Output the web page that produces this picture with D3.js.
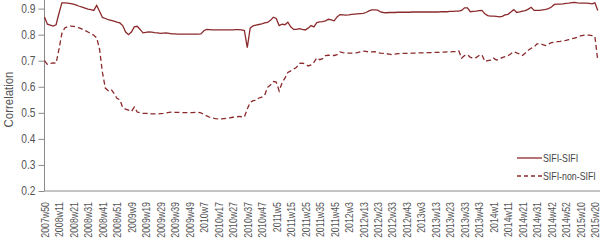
<!DOCTYPE html>
<html>
<head>
<meta charset="utf-8">
<script src="https://cdn.jsdelivr.net/npm/d3@7"></script>
<style>
  body { margin: 0; background: #fff; }
  svg { display: block; font-family: "Liberation Sans", Arial, sans-serif; }
  .axis path, .axis line { stroke: #8a8a8a; }
  .axis text { fill: #555; }
</style>
</head>
<body>
<svg id="chart" width="600" height="241"></svg>
<script>
// week labels shown on the x axis, one every 10 weeks
const tickLabels = ["2007w50", "2008w11", "2008w21", "2008w31", "2008w41", "2008w51", "2009w9", "2009w19",
  "2009w29", "2009w39", "2009w49", "2010w7", "2010w17", "2010w27", "2010w37", "2010w47", "2011w5",
  "2011w15", "2011w25", "2011w35", "2011w45", "2012w3", "2012w13", "2012w23", "2012w33", "2012w43",
  "2013w3", "2013w13", "2013w23", "2013w33", "2013w43", "2014w1", "2014w11", "2014w21", "2014w31",
  "2014w42", "2014w52", "2015w10", "2015w20"];

// correlations, one value every 2 weeks from 2007w50
const sifiSifi = [
  0.868, 0.840, 0.837, 0.833, 0.838, 0.882, 0.922, 0.922, 0.921, 0.919,
  0.917, 0.913, 0.909, 0.906, 0.902, 0.898, 0.896, 0.893, 0.912, 0.890,
  0.866, 0.862, 0.858, 0.855, 0.852, 0.848, 0.845, 0.835, 0.810, 0.800,
  0.810, 0.830, 0.832, 0.820, 0.807, 0.809, 0.811, 0.810, 0.808, 0.807,
  0.805, 0.806, 0.807, 0.805, 0.803, 0.803, 0.802, 0.802, 0.802, 0.802,
  0.802, 0.802, 0.802, 0.802, 0.803, 0.815, 0.820, 0.819, 0.818, 0.818,
  0.818, 0.818, 0.818, 0.818, 0.818, 0.818, 0.819, 0.819, 0.818, 0.816,
  0.750, 0.825, 0.834, 0.837, 0.839, 0.841, 0.845, 0.847, 0.855, 0.867,
  0.862, 0.835, 0.840, 0.838, 0.848, 0.830, 0.820, 0.820, 0.823, 0.820,
  0.818, 0.825, 0.835, 0.830, 0.846, 0.849, 0.850, 0.853, 0.859, 0.857,
  0.853, 0.868, 0.877, 0.876, 0.875, 0.876, 0.878, 0.879, 0.880, 0.881,
  0.882, 0.885, 0.891, 0.895, 0.895, 0.894, 0.887, 0.885, 0.884, 0.885,
  0.885, 0.885, 0.886, 0.886, 0.886, 0.886, 0.886, 0.887, 0.887, 0.887,
  0.887, 0.887, 0.887, 0.887, 0.887, 0.887, 0.887, 0.888, 0.888, 0.888,
  0.889, 0.889, 0.890, 0.890, 0.893, 0.903, 0.903, 0.888, 0.889, 0.890,
  0.892, 0.893, 0.880, 0.873, 0.871, 0.871, 0.870, 0.868, 0.870, 0.876,
  0.878, 0.887, 0.896, 0.885, 0.887, 0.890, 0.892, 0.898, 0.905, 0.893,
  0.893, 0.893, 0.895, 0.897, 0.900, 0.906, 0.916, 0.917, 0.917, 0.918,
  0.920, 0.921, 0.923, 0.924, 0.922, 0.921, 0.921, 0.921, 0.920, 0.918,
  0.922, 0.893
];
const sifiNonSifi = [
  0.700, 0.686, 0.690, 0.692, 0.690, 0.744, 0.805, 0.826, 0.831, 0.833,
  0.832, 0.829, 0.826, 0.821, 0.816, 0.810, 0.804, 0.798, 0.788, 0.745,
  0.655, 0.595, 0.585, 0.590, 0.575, 0.556, 0.550, 0.520, 0.514, 0.510,
  0.505, 0.522, 0.503, 0.500, 0.498, 0.498, 0.497, 0.496, 0.496, 0.496,
  0.497, 0.498, 0.500, 0.502, 0.503, 0.502, 0.502, 0.501, 0.501, 0.501,
  0.501, 0.501, 0.502, 0.502, 0.500, 0.494, 0.488, 0.483, 0.480, 0.478,
  0.477, 0.477, 0.478, 0.479, 0.481, 0.483, 0.484, 0.486, 0.485, 0.484,
  0.515, 0.540, 0.547, 0.548, 0.557, 0.560, 0.568, 0.598, 0.607, 0.620,
  0.618, 0.584, 0.615, 0.633, 0.655, 0.661, 0.668, 0.675, 0.690, 0.691,
  0.688, 0.680, 0.684, 0.694, 0.711, 0.704, 0.708, 0.720, 0.721, 0.720,
  0.720, 0.723, 0.734, 0.731, 0.729, 0.729, 0.729, 0.730, 0.731, 0.734,
  0.737, 0.736, 0.733, 0.734, 0.735, 0.731, 0.729, 0.728, 0.727, 0.725,
  0.723, 0.725, 0.727, 0.728, 0.728, 0.728, 0.728, 0.729, 0.729, 0.730,
  0.730, 0.730, 0.731, 0.731, 0.731, 0.732, 0.732, 0.733, 0.733, 0.734,
  0.734, 0.735, 0.735, 0.738, 0.710, 0.720, 0.723, 0.713, 0.710, 0.712,
  0.720, 0.723, 0.698, 0.700, 0.702, 0.710, 0.703, 0.706, 0.712, 0.716,
  0.719, 0.727, 0.735, 0.730, 0.726, 0.720, 0.730, 0.740, 0.748, 0.752,
  0.765, 0.765, 0.762, 0.758, 0.764, 0.769, 0.771, 0.773, 0.774, 0.776,
  0.778, 0.781, 0.784, 0.787, 0.790, 0.795, 0.797, 0.799, 0.798, 0.796,
  0.793, 0.700
];
const seriesNames = ["SIFI-SIFI", "SIFI-non-SIFI"];
const yTicks = [0.2, 0.3, 0.4, 0.5, 0.6, 0.7, 0.8, 0.9];

const weekStep = 2;
const tickEvery = 10;
const color = "#8b2a2c";
const narrow = 0.8; // squeeze text to look like a condensed face

const svg = d3.select("#chart");
const plotLeft = 44.5, plotRight = 597.8, plotTop = 0, plotBottom = 191;
const lastWeek = (sifiSifi.length - 1) * weekStep;

const x = d3.scaleLinear().domain([0, lastWeek]).range([plotLeft, plotRight]);
const y = d3.scaleLinear().domain([0.2, 0.933]).range([plotBottom, plotTop]);

// y axis
svg.append("g")
  .attr("class", "axis")
  .attr("transform", `translate(${plotLeft},0)`)
  .call(d3.axisLeft(y).tickValues(yTicks).tickFormat(d3.format(".1f")).tickSize(6))
  .call(g => g.select(".domain").attr("d", `M0,${plotTop}V${plotBottom}`))
  .call(g => g.selectAll("text")
    .attr("font-size", 12)
    .attr("x", -9 / 0.85)
    .attr("transform", "scale(0.85,1)"));

// x axis
svg.append("g")
  .attr("class", "axis")
  .attr("transform", `translate(0,${plotBottom})`)
  .call(d3.axisBottom(x).tickValues(tickLabels.map((d, i) => i * tickEvery)).tickSize(0)
    .tickFormat((d, i) => tickLabels[i]))
  .call(g => g.select(".domain").attr("d", `M${plotLeft},0H600`))
  .call(g => g.selectAll("text")
    .attr("font-size", 11)
    .attr("text-anchor", "end")
    .attr("transform", `rotate(-90) scale(${narrow},1)`)
    .attr("x", -11 / narrow)
    .attr("y", 0)
    .attr("dy", "0.35em"));

// y label
svg.append("text")
  .attr("transform", `translate(8,${(plotTop + plotBottom) / 2 + 4}) rotate(-90) scale(0.88,1)`)
  .attr("text-anchor", "middle")
  .attr("dy", "0.35em")
  .attr("font-size", 13)
  .attr("fill", "#555")
  .text("Correlation");

const line = d3.line()
  .x((d, i) => x(i * weekStep))
  .y(d => y(d));

svg.append("path")
  .datum(sifiNonSifi)
  .attr("fill", "none")
  .attr("stroke", color)
  .attr("stroke-width", 1.3)
  .attr("stroke-dasharray", "5,3")
  .attr("d", line);

svg.append("path")
  .datum(sifiSifi)
  .attr("fill", "none")
  .attr("stroke", color)
  .attr("stroke-width", 1.3)
  .attr("d", line);

// legend
const legend = svg.append("g").attr("transform", "translate(517,158)");
seriesNames.forEach((name, i) => {
  const row = legend.append("g").attr("transform", `translate(0,${i * 18})`);
  row.append("line")
    .attr("x1", 0).attr("x2", 25)
    .attr("stroke", color)
    .attr("stroke-width", 1.3)
    .attr("stroke-dasharray", i === 1 ? "4,3" : null);
  row.append("text")
    .attr("transform", `translate(26,0) scale(${narrow},1)`)
    .attr("dy", "0.35em")
    .attr("font-size", 11)
    .attr("fill", "#444")
    .text(name);
});
</script>
</body>
</html>
